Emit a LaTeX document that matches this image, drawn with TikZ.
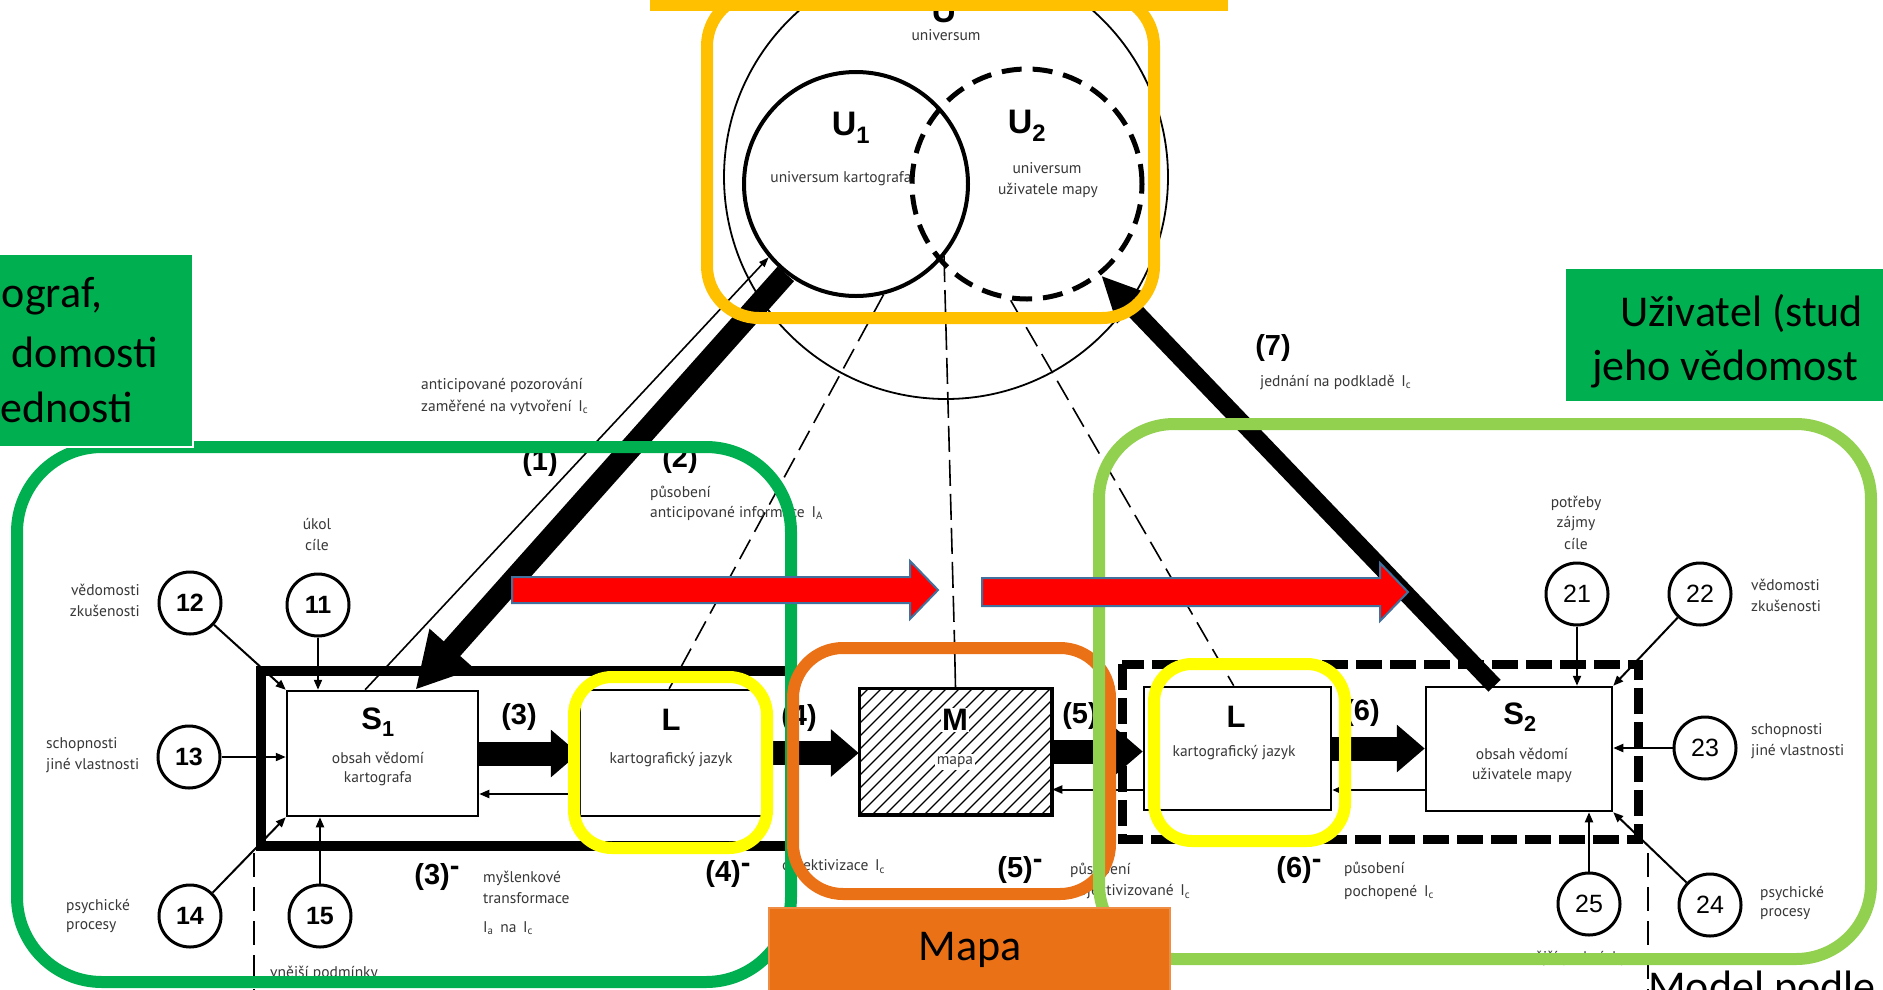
\documentclass[tikz,border=0pt]{standalone}
\usepackage{fontspec}
\setmainfont{Carlito}
\newfontfamily\lblfont{PT Sans}
\newfontfamily\helv{Liberation Sans}
\usetikzlibrary{arrows.meta,calc}

\definecolor{grn}{HTML}{00B050}
\definecolor{lgrn}{HTML}{92D050}
\definecolor{orng}{HTML}{EB7117}
\definecolor{gold}{HTML}{FFC000}
\definecolor{ylw}{HTML}{FFFF00}
\definecolor{ink}{HTML}{383838}
\definecolor{redline}{HTML}{41719C}

\tikzset{
  lbl/.style={font=\lblfont\fontsize{15.5}{20}\selectfont, text=ink, inner sep=0pt},
  tag/.style={font=\helv\bfseries\fontsize{29}{30}\selectfont, inner sep=0pt},
  sym/.style={font=\helv\bfseries\fontsize{31}{34}\selectfont, inner sep=0pt},
  numc/.style={circle, draw, line width=3pt, minimum size=62pt, inner sep=0pt, font=\helv\bfseries\fontsize{25}{25}\selectfont},
  numr/.style={numc, font=\helv\fontsize{25}{25}\selectfont},
  blk/.style={draw, line width=2.5pt, fill=white, inner sep=0pt},
  conn/.style={line width=2pt, -{Triangle[length=10pt,width=8pt]}},
  flow/.style={line width=24pt, -{Triangle[length=28pt,width=46pt]}},
  ring/.style={line width=12pt},
  slidetxt/.style={font=\fontsize{44}{52}\selectfont, inner sep=0pt},
  redarrow/.style={fill=red, draw=redline, line width=2pt, line join=miter},
}

\begin{document}
\begin{tikzpicture}[x=1pt,y=-1pt]
\useasboundingbox (0,0) rectangle (1883,989);
\fill[white] (0,0) rectangle (1883,989);

% ---------- universes ----------
\node[circle, draw, line width=1.8pt, minimum size=444pt, inner sep=0pt] (uall) at (946,177) {};
\node[circle, draw, line width=4pt, minimum size=224pt, inner sep=0pt] (u1) at (856,184) {};
\node[circle, draw, line width=5pt, dash pattern=on 20pt off 11pt, minimum size=230pt, inner sep=0pt] (u2) at (1027,184) {};
\coordinate (cross) at (944,256);

\node[font=\helv\bfseries\fontsize{34}{34}\selectfont, inner sep=0pt] (tUall) at (944,11) {U};
\node[lbl] (tUalltxt) at (946,35) {universum};
\node[font=\helv\bfseries\fontsize{34}{34}\selectfont, inner sep=0pt] (tU1) at (851,128) {U\textsubscript{1}};
\node[lbl] (tU1txt) at (841,179) {universum kartografa};
\node[font=\helv\bfseries\fontsize{34}{34}\selectfont, inner sep=0pt] (tU2) at (1027,126) {U\textsubscript{2}};
\node[lbl] (tU2a) at (1047,168) {universum};
\node[lbl] (tU2b) at (1048,190) {uživatele mapy};

% ---------- blocks ----------
\node[blk, minimum width=191pt, minimum height=125pt] (s1) at (382.5,753.5) {};
\node[blk, minimum width=182pt, minimum height=126pt] (l1) at (671,753) {};
\node[blk, minimum width=191pt, minimum height=125pt] (m) at (955.5,751.5) {};
\node[blk, minimum width=187pt, minimum height=123pt] (l2) at (1237.5,748.5) {};
\node[blk, minimum width=186pt, minimum height=124pt] (s2) at (1519,749) {};

% hatching of the map block
\begin{scope}
  \clip (m.south west) rectangle (m.north east);
  \foreach \k in {-11,...,16}
    \draw[line width=1.2pt] ($(m.south west)+(\k*13,0)$) -- ++(200,-200);
\end{scope}
\draw[line width=2.5pt] (m.south west) rectangle (m.north east);

% ---------- links to the universes ----------
\draw[line width=1.6pt, dash pattern=on 22pt off 9pt] (u1.-76) -- ($(l1.north west)!0.49!(l1.north east)$);
\draw[line width=1.6pt, dash pattern=on 22pt off 9pt] (u2.-98) -- ($(l2.north west)!0.48!(l2.north east)$);
\coordinate (mlink) at ($(m.north)+(-1,-46)$);
\draw[line width=1.6pt, dash pattern=on 26pt off 8pt] (cross) -- (mlink);
\draw[line width=1.6pt] (mlink) -- (m.north);

\draw[line width=1.6pt, -{Triangle[length=10pt,width=7pt]}] ($(s1.north west)!0.41!(s1.north east)$) -- (u1.220);
\draw[line width=22pt, -{Triangle[length=55pt,width=56pt]}] (u1.232) -- ($(s1.north west)!0.67!(s1.north east)$);
\draw[line width=17pt, -{Triangle[length=46pt,width=40pt]}] ($(s2.north west)!0.37!(s2.north east)$) -- (u2.-51);

% ---------- system frames ----------
\draw[line width=10pt] (261,671) rectangle (794,846);
\draw[line width=9pt, dash pattern=on 26pt off 8pt] (1122,664) rectangle (1638,839);

% ---------- factors ----------
\node[numc] (c11) at (318,605) {11};
\node[numc] (c12) at (190,603) {12};
\node[numc] (c13) at (189,757) {13};
\node[numc] (c14) at (190,916) {14};
\node[numc] (c15) at (320,916) {15};
\node[numr] (c21) at (1577,594) {21};
\node[numr] (c22) at (1700,594) {22};
\node[numr] (c23) at (1705,748) {23};
\node[numr] (c24) at (1710,905) {24};
\node[numr] (c25) at (1589,904) {25};

\draw[conn] (c11) -- (c11 |- s1.north);
\draw[conn] (c12) -- (s1.north west);
\draw[conn] (c13) -- (c13 -| s1.west);
\draw[conn] (c14) -- (s1.south west);
\draw[conn] (c15) -- (c15 |- s1.south);
\draw[conn] (c21) -- (c21 |- s2.north);
\draw[conn] (c22) -- (s2.north east);
\draw[conn] (c23) -- (c23 -| s2.east);
\draw[conn] (c24) -- (s2.south east);
\draw[conn] (c25) -- (c25 |- s2.south);

\coordinate (outL) at (254,853);
\coordinate (outLend) at (254,995);
\coordinate (outR) at (1648,853);
\coordinate (outRend) at (1648,995);
\draw[line width=2pt, dash pattern=on 24pt off 10pt] (outL) -- (outLend);
\draw[line width=2pt, dash pattern=on 24pt off 10pt] (outR) -- (outRend);

% ---------- flow of information ----------
\draw[flow] (s1.east) -- (s1.east -| l1.west);
\draw[flow] (l1.east) -- (l1.east -| m.west);
\draw[flow] (m.east) -- (m.east -| l2.west);
\draw[flow] (l2.east) -- (l2.east -| s2.west);
\coordinate (r1) at ($(l1.west)+(0,41)$);
\coordinate (r2) at ($(l2.west)+(0,41)$);
\coordinate (r3) at ($(s2.west)+(0,41)$);
\draw[conn] (r1) -- (r1 -| s1.east);
\draw[conn] (r2) -- (r2 -| m.east);
\draw[conn] (r3) -- (r3 -| l2.east);

% ---------- block texts ----------
\node[sym] (ts1) at (378,722) {S\textsubscript{1}};
\node[lbl] (ts1a) at (378,758) {obsah vědomí};
\node[lbl] (ts1b) at (378,779) {kartografa};
\node[sym] (tl1) at (671,720) {L};
\node[lbl] (tl1a) at (671,760) {kartografický jazyk};
\node[sym, fill=white, inner sep=1pt] (tm) at (955,720) {M};
\node[lbl, fill=white, inner sep=2pt] (tma) at (955,762) {mapa};
\node[sym] (tl2) at (1236,717) {L};
\node[lbl] (tl2a) at (1234,753) {kartografický jazyk};
\node[sym] (ts2) at (1520,717) {S\textsubscript{2}};
\node[lbl] (ts2a) at (1522,754) {obsah vědomí};
\node[lbl] (ts2b) at (1522,775) {uživatele mapy};

% ---------- process labels ----------
\node[tag] (p1) at (540,463) {(1)};
\node[tag] (p2) at (680,460) {(2)};
\node[tag] (p3) at (519,717) {(3)};
\node[tag] (p4) at (799,718) {(4)};
\node[tag] (p5) at (1080,716) {(5)};
\node[tag] (p6) at (1362,713) {(6)};
\node[tag] (p7) at (1273,348) {(7)};
\node[tag] (p3m) at (437,877) {(3)\raisebox{0.3em}{-}};
\node[tag] (p4m) at (728,874) {(4)\raisebox{0.3em}{-}};
\node[tag] (p5m) at (1020,870) {(5)\raisebox{0.3em}{-}};
\node[tag] (p6m) at (1299,870) {(6)\raisebox{0.3em}{-}};

\node[lbl, anchor=west] (ta1) at (421,385) {anticipované pozorování};
\node[lbl, anchor=west] (ta2) at (421,407) {zaměřené na vytvoření\, I\textsubscript{c}};
\node[lbl, anchor=west] (tb1) at (650,493) {působení};
\node[lbl, anchor=west] (tb2) at (650,513) {anticipované informace\, I\textsubscript{A}};
\node[lbl, anchor=west] (tg1) at (1260,382) {jednání na podkladě\, I\textsubscript{c}};
\node[lbl, anchor=west] (tc1) at (483,878) {myšlenkové};
\node[lbl, anchor=west] (tc2) at (483,898) {transformace};
\node[lbl, anchor=west] (tc3) at (483,928) {I\textsubscript{a}\, na\, I\textsubscript{c}};
\node[lbl, anchor=west] (td1) at (782,867) {objektivizace\, I\textsubscript{c}};
\node[lbl, anchor=west] (te1) at (1070,870) {působení};
\node[lbl, anchor=west] (te2) at (1070,892) {objektivizované\, I\textsubscript{c}};
\node[lbl, anchor=west] (tf1) at (1344,869) {působení};
\node[lbl, anchor=west] (tf2) at (1344,892) {pochopené\, I\textsubscript{c}};

% ---------- factor labels ----------
\node[lbl] (f11a) at (317,524) {úkol};
\node[lbl] (f11b) at (317,545) {cíle};
\node[lbl, anchor=east] (f12a) at (140,590) {vědomosti};
\node[lbl, anchor=east] (f12b) at (140,611) {zkušenosti};
\node[lbl, anchor=west] (f13a) at (46,745) {schopnosti};
\node[lbl, anchor=west] (f13b) at (46,766) {jiné vlastnosti};
\node[lbl, anchor=west] (f14a) at (66,906) {psychické};
\node[lbl, anchor=west] (f14b) at (66,927) {procesy};
\node[lbl, anchor=west] (f15) at (270,973) {vnější podmínky};
\node[lbl] (f21a) at (1576,503) {potřeby};
\node[lbl] (f21b) at (1576,524) {zájmy};
\node[lbl] (f21c) at (1576,544) {cíle};
\node[lbl, anchor=west] (f22a) at (1751,585) {vědomosti};
\node[lbl, anchor=west] (f22b) at (1751,606) {zkušenosti};
\node[lbl, anchor=west] (f23a) at (1751,731) {schopnosti};
\node[lbl, anchor=west] (f23b) at (1751,752) {jiné vlastnosti};
\node[lbl, anchor=west] (f24a) at (1760,893) {psychické};
\node[lbl, anchor=west] (f24b) at (1760,914) {procesy};
\node[lbl] (f25) at (1573,958) {vnější podmínky};

% ---------- highlight frames ----------
\draw[grn, ring, rounded corners=85pt] (17,447) rectangle (791,982);
\draw[orng, ring, rounded corners=50pt] (793,648) rectangle (1110,894);
\draw[lgrn, ring, rounded corners=75pt] (1099,424) rectangle (1871,959);
\draw[ylw, ring, rounded corners=38pt] (574,677) rectangle (767,848);
\draw[ylw, ring, rounded corners=38pt] (1154,664) rectangle (1345,841);
\draw[gold, ring, rounded corners=52pt] (707,-6) rectangle (1154,318);
\fill[gold] (650,0) rectangle (1228,11);

% ---------- direction arrows ----------
\draw[redarrow] (512,577) -- (910,577) -- (910,561) -- (938,590) -- (910,619) -- (910,603) -- (512,603) -- cycle;
\draw[redarrow] (982,578) -- (1380,578) -- (1380,563) -- (1408,592) -- (1380,621) -- (1380,606) -- (982,606) -- cycle;

% ---------- captions ----------
\fill[grn, draw=white, line width=2pt] (-10,254) rectangle (193,447);
\node[slidetxt, anchor=base east] (k1) at (103,307) {ograf,};
\node[slidetxt, anchor=base east] (k2) at (158,367) {domosti};
\node[slidetxt, anchor=base east] (k3) at (133,422) {ednosti};

\fill[grn, draw=white, line width=2pt] (1565,268) rectangle (1895,402);
\node[slidetxt, anchor=base west] (k4) at (1620,326) {Uživatel (stud};
\node[slidetxt, anchor=base west] (k5) at (1592,380) {jeho vědomost};

\fill[orng, draw=orng!80!white, line width=1.5pt] (769,908) rectangle (1170,999);
\node[slidetxt] (k6) at (970,950) {Mapa};

\node[slidetxt, anchor=base west] (k7) at (1648,1001) {Model podle};
\end{tikzpicture}
\end{document}
